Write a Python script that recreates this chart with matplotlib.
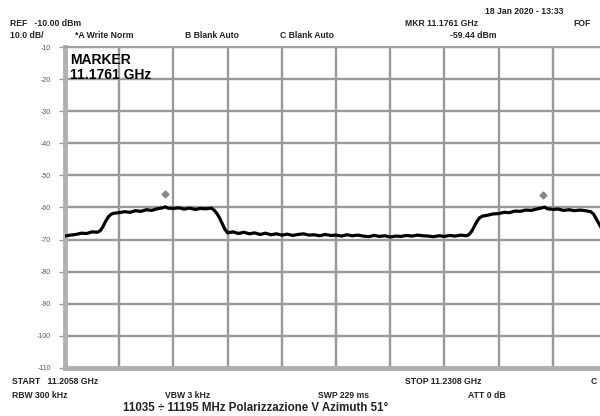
import matplotlib
matplotlib.use("Agg")
import matplotlib.pyplot as plt

# --- Dati letti dalla schermata dell'analizzatore ---
# asse x in divisioni (0..10), livello in dBm
trace_div = [0.0, 0.1, 0.2, 0.3, 0.4, 0.5, 0.6, 0.65, 0.7, 0.75, 0.8, 0.85, 0.9,
             1.0, 1.1, 1.2, 1.3, 1.4, 1.5, 1.6, 1.7, 1.8, 1.85, 1.9, 2.0, 2.1,
             2.2, 2.3, 2.4, 2.5, 2.6, 2.7, 2.75, 2.8, 2.85, 2.9, 2.95, 3.0,
             3.1, 3.2, 3.3, 3.4, 3.5, 3.6, 3.7, 3.8, 3.9, 4.0, 4.1, 4.2, 4.3,
             4.4, 4.5, 4.6, 4.7, 4.8, 4.9, 5.0, 5.1, 5.2, 5.3, 5.4, 5.5, 5.6,
             5.7, 5.8, 5.9, 6.0, 6.1, 6.2, 6.3, 6.4, 6.5, 6.6, 6.7, 6.8, 6.9,
             7.0, 7.1, 7.2, 7.3, 7.4, 7.45, 7.5, 7.55, 7.6, 7.65, 7.7, 7.8,
             7.9, 8.0, 8.1, 8.2, 8.3, 8.4, 8.5, 8.6, 8.7, 8.8, 8.85, 8.9, 9.0,
             9.1, 9.2, 9.3, 9.4, 9.5, 9.6, 9.7, 9.75, 9.8, 9.85, 9.9, 10.0]
trace_dbm = [-68.9, -68.6, -68.4, -68.0, -68.1, -67.6, -67.7, -67.2, -66.0, -64.3,
             -62.9, -62.1, -61.8, -61.6, -61.3, -61.5, -61.0, -61.2, -60.7, -60.9,
             -60.4, -60.1, -59.8, -60.2, -60.3, -60.1, -60.5, -60.2, -60.6, -60.3,
             -60.4, -60.2, -60.8, -61.8, -63.2, -65.0, -66.8, -67.9,
             -67.6, -68.1, -67.7, -68.2, -67.9, -68.4, -68.0, -68.5, -68.2, -68.6,
             -68.3, -68.7, -68.4, -68.2, -68.6, -68.5, -68.8, -68.4, -68.7, -68.6,
             -68.9, -68.5, -68.8, -68.6, -68.9, -69.1, -68.7, -69.0, -68.8, -69.2,
             -68.9, -69.0, -68.7, -68.9, -68.6, -68.8, -68.9, -69.1, -68.8,
             -69.0, -68.7, -68.9, -68.6, -68.8, -68.5, -67.5, -66.0, -64.3, -63.2,
             -62.7, -62.4, -62.0, -61.9, -61.5, -61.6, -61.1, -61.2, -60.8, -60.9,
             -60.5, -60.1, -59.9, -60.4, -60.6, -60.5, -60.9, -60.7, -61.0, -60.8,
             -61.0, -61.3, -62.0, -63.5, -65.0, -66.5, -68.0]

marker_div = [1.85, 8.82]
marker_dbm = [-55.9, -56.2]

y_ticks = [-10, -20, -30, -40, -50, -60, -70, -80, -90, -100, -110]

header_top = "18 Jan 2020 - 13:33"
header_ref = ["REF   -10.00 dBm", "MKR 11.1761 GHz", "FOF"]
header_mode = ["10.0 dB/", "*A Write Norm", "B Blank Auto", "C Blank Auto", "-59.44 dBm"]
footer_freq = ["START   11.2058 GHz", "STOP 11.2308 GHz", "C"]
footer_bw = ["RBW 300 kHz", "VBW 3 kHz", "SWP 229 ms", "ATT 0 dB"]
caption = "11035 \u00f7 11195 MHz Polarizzazione V Azimuth 51\u00b0"

plt.rcParams['font.family'] = ['Liberation Sans', 'DejaVu Sans']

fig = plt.figure(figsize=(6, 4.16), dpi=100)
W, H = 600, 416

def fx(px):
    return px / W

def fy(py):
    return 1 - py / H

# area del grafico (esce un po' a destra come nella foto)
ax = fig.add_axes([fx(65), fy(368), 542 / W, 321 / H])
ax.plot(trace_div, trace_dbm, color='black', lw=2.3, zorder=3)
ax.plot(marker_div, marker_dbm, ls='none', marker='D', ms=3.5,
        color='#888888', zorder=3)

ax.set_xlim(0, 10)
ax.set_ylim(-110, -10)
ax.set_xticks(range(0, 11))
ax.set_yticks(y_ticks)
ax.set_xticklabels([])
ax.set_yticklabels([str(v) for v in y_ticks], fontsize=5, color='#555555')
ax.grid(True, color='#999999', lw=1.7)
ax.tick_params(axis='y', length=4, width=1, color='#999999', pad=6)
ax.tick_params(axis='x', length=4, width=1.5, color='#999999', direction='in')
for s in ['left', 'bottom']:
    ax.spines[s].set_color('#b0b0b0')
    ax.spines[s].set_linewidth(3.5)
ax.spines['top'].set_color('#a0a0a0')
ax.spines['top'].set_linewidth(1.5)
ax.spines['right'].set_visible(False)

# riquadro MARKER
ax.text(0.1, -11.8, "MARKER", fontsize=10, fontweight='bold', va='top')
ax.text(0.1, -16.5, "11.1761 GHz", fontsize=10, fontweight='bold', va='top')

# intestazione
tk = dict(fontsize=6.2, fontweight='bold', color='#222222', va='center')
fig.text(fx(485), fy(11), header_top, **tk)
for x, s in zip([10, 405, 573], header_ref):
    fig.text(fx(x), fy(24), s, **tk)
for x, s in zip([10, 75, 185, 280, 450], header_mode):
    fig.text(fx(x), fy(36), s, **tk)

# piè di pagina
for x, s in zip([12, 405, 591], footer_freq):
    fig.text(fx(x), fy(382), s, **tk)
for x, s in zip([12, 165, 318, 468], footer_bw):
    fig.text(fx(x), fy(395), s, **tk)
fig.text(fx(256), fy(408), caption, fontsize=8.3, fontweight='bold',
         ha='center', va='center', color='#222222')

fig.savefig("out.png", dpi=100)
